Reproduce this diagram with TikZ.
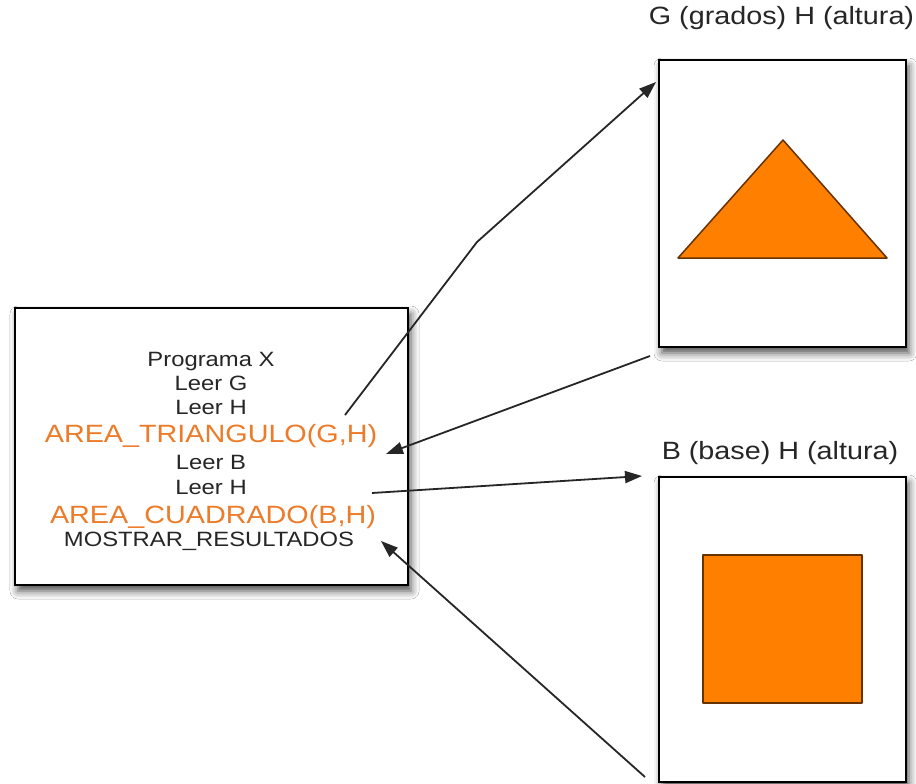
\documentclass[tikz,border=0pt]{standalone}
\usepackage{fontspec}
\setmainfont{Liberation Sans}[FakeStretch=1.15]
\usetikzlibrary{arrows.meta,shadows.blur}
\definecolor{shapeorange}{RGB}{255,127,0}
\definecolor{textorange}{RGB}{236,124,42}
\begin{document}
\begin{tikzpicture}[x=1pt,y=-1pt,
  panel/.style={draw=black,line width=2pt,fill=white,rectangle,inner sep=0pt,
    blur shadow={shadow xshift=3pt,shadow yshift=-6pt,shadow blur radius=8pt,shadow opacity=70}},
  blk/.style={anchor=base,inner sep=0pt,font=\fontsize{20.7}{24}\selectfont,text=black!85},
  org/.style={anchor=base,inner sep=0pt,font=\fontsize{25}{28}\selectfont,text=textorange},
  head/.style={anchor=base,inner sep=0pt,font=\fontsize{25}{28}\selectfont,text=black!85},
  conn/.style={line width=1.8pt,draw=black!85,-{Triangle[length=17pt,width=12pt]}},
  figure/.style={draw=black!60!shapeorange,line width=1.5pt,fill=shapeorange,line join=round}]
\useasboundingbox (0,0) rectangle (916,784);
\fill[white] (0,0) rectangle (916,784);
% boxes
\node[panel,minimum width=393pt,minimum height=277pt] (prog) at (211.5,446.5) {};
\node[panel,minimum width=247pt,minimum height=287pt] (tbox) at (782.5,203.5) {};
\node[panel,minimum width=247pt,minimum height=305pt] (sbox) at (782.5,629.5) {};
% program text
\node[blk] (l1) at (211,366) {Programa X};
\node[blk] (l2) at (211,390) {Leer G};
\node[blk] (l3) at (211,414) {Leer H};
\node[org] (l4) at (211,442) {AREA\_TRIANGULO(G,H)};
\node[blk] (l5) at (211,469) {Leer B};
\node[blk] (l6) at (211,494) {Leer H};
\node[org] (l7) at (213,523) {AREA\_CUADRADO(B,H)};
\node[blk] (l8) at (209,546) {MOSTRAR\_RESULTADOS};
% headings
\node[head] (h1) at (781.5,25) {G (grados) H (altura)};
\node[head] (h2) at (780,459) {B (base) H (altura)};
% shapes
\draw[figure] (783,140) -- (678,258) -- (887,258) -- cycle;
\draw[figure] (703,555) rectangle (862,703);
% connector points
\coordinate (a1s) at (345,415);
\coordinate (a1m) at (477,242);
\coordinate (a1e) at (656,82);
\coordinate (a2s) at (650,356);
\coordinate (a2e) at (386,454);
\coordinate (a3s) at (372,493);
\coordinate (a3e) at (642,476);
\coordinate (a4s) at (645,777);
\coordinate (a4e) at (381,541);
\draw[conn] (a1s) -- (a1m) -- (a1e);
\draw[conn] (a2s) -- (a2e);
\draw[conn] (a3s) -- (a3e);
\draw[conn] (a4s) -- (a4e);
\end{tikzpicture}
\end{document}
